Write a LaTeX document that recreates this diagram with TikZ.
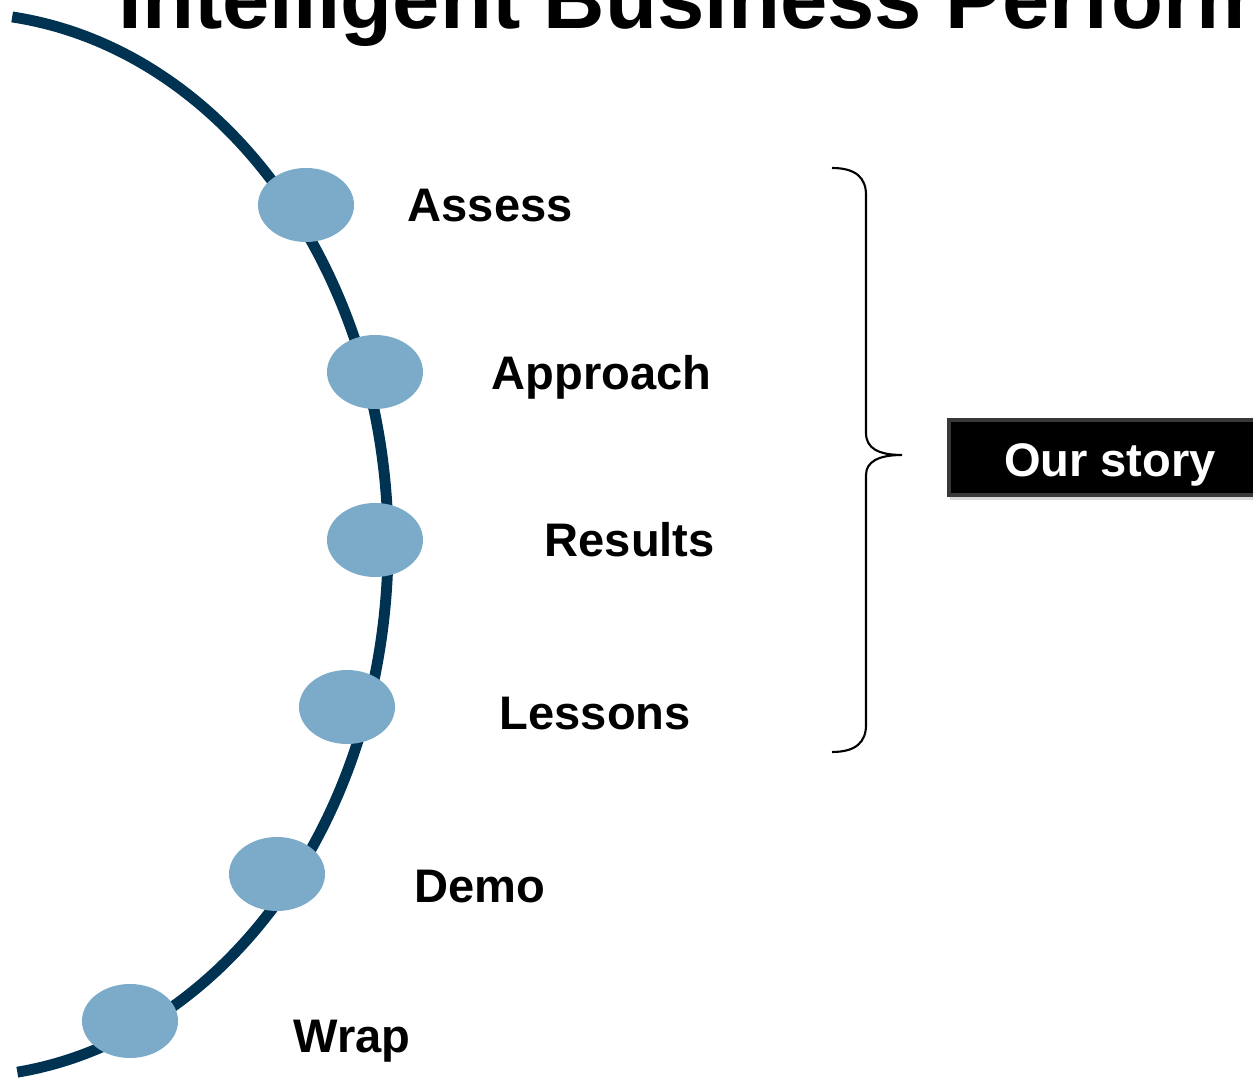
\documentclass[tikz,border=0pt]{standalone}
\usepackage{fontspec}
\setmainfont{Liberation Sans}
\usepackage{tikz}
\usepackage{xcolor}
\usetikzlibrary{positioning, shapes.geometric, shadows}

\definecolor{arcnavy}{RGB}{0,51,82}
\definecolor{dotblue}{RGB}{123,171,201}

\begin{document}
\begin{tikzpicture}[
  every node/.style={font=\bfseries},
  stepdot/.style={ellipse, fill=dotblue, minimum width=0.96cm, minimum height=0.74cm, inner sep=0pt},
  steplabel/.style={font=\fontsize{13.4}{16}\selectfont\bfseries, anchor=base west, inner sep=0pt},
  storybox/.style={fill=black, draw=black!78, line width=1.2pt, text=white,
    font=\fontsize{13.4}{16}\selectfont\bfseries, minimum width=3.22cm,
    text height=0.565cm, text depth=0.185cm, inner ysep=0pt,
    drop shadow={shadow xshift=0.2pt, shadow yshift=-1.5pt, opacity=0.3}}
]
\useasboundingbox (0,0) rectangle (12.53,10.80);
\clip (0,0) rectangle (12.53,10.80);

% Title, cut off by the page edge
\node[font=\fontsize{24.2}{28}\selectfont\bfseries, anchor=base west, inner sep=0pt] (title)
  at (1.18,10.51) {Intelligent Business Performance};

% The arc
\draw[arcnavy, line width=3.1pt] (-0.40,5.35) ++(83:4.28 and 5.32)
  arc[start angle=83, end angle=-82.3, x radius=4.28, y radius=5.32];

% Steps on the arc
\foreach \nm/\x/\y in {assess/3.06/8.75, approach/3.75/7.08, results/3.75/5.40,
                       lessons/3.47/3.73, demo/2.77/2.06, wrap/1.30/0.59} {
  \node[stepdot] (\nm) at (\x,\y) {};
}

% Step labels
\foreach \nm/\x/\y/\txt in {assess/4.07/8.58/Assess, approach/4.91/6.90/Approach,
                            results/5.44/5.23/Results, lessons/4.99/3.50/Lessons,
                            demo/4.14/1.77/Demo, wrap/2.93/0.27/Wrap} {
  \node[steplabel] (\nm-lbl) at (\x,\y) {\txt};
}

% Brace round the first four steps
\draw[line width=0.6pt] (8.32,9.12) .. controls (8.56,9.12) and (8.66,9.02) .. (8.66,8.85)
  -- (8.66,6.47) .. controls (8.66,6.32) and (8.78,6.25) .. (9.02,6.25)
  .. controls (8.78,6.25) and (8.66,6.18) .. (8.66,6.05)
  -- (8.66,3.55) .. controls (8.66,3.38) and (8.56,3.28) .. (8.32,3.28);

% Our story
\node[storybox] (story) at (11.10,6.225) {Our story};

\end{tikzpicture}
\end{document}
